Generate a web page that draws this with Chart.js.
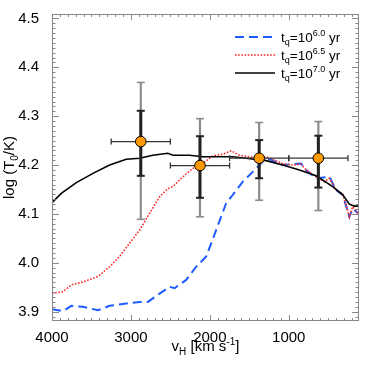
<!DOCTYPE html>
<html>
<head>
<meta charset="utf-8">
<script src="https://cdn.jsdelivr.net/npm/chart.js@4"></script>
<style>
  body { margin: 0; background: #fff; }
  #wrap { width: 374px; height: 374px; }
</style>
</head>
<body>
<div id="wrap"><canvas id="chart" width="374" height="374"></canvas></div>
<script>
// quasar lifetime models, log T0 vs velocity
const v60 = [4000, 3861, 3755, 3608, 3418, 3270, 3059, 2890, 2785, 2637, 2511, 2447, 2300, 2173, 2046, 1920, 1793, 1709, 1582, 1456, 1329, 1245, 1076, 949, 844, 781, 654, 485, 401, 316, 232, 190, 118];
const t60 = [3.905, 3.901, 3.912, 3.910, 3.903, 3.912, 3.917, 3.920, 3.920, 3.937, 3.951, 3.948, 3.965, 3.992, 4.013, 4.067, 4.122, 4.139, 4.166, 4.186, 4.207, 4.212, 4.200, 4.202, 4.203, 4.190, 4.173, 4.176, 4.149, 4.139, 4.094, 4.111, 4.101];

const v65 = [4000, 3861, 3755, 3608, 3418, 3270, 3143, 3017, 2890, 2764, 2637, 2532, 2468, 2342, 2215, 2089, 1962, 1835, 1730, 1624, 1456, 1287, 1076, 949, 844, 781, 654, 549, 485, 401, 316, 232, 190, 118];
const t65 = [3.937, 3.941, 3.955, 3.961, 3.972, 3.992, 4.013, 4.040, 4.067, 4.101, 4.135, 4.152, 4.156, 4.176, 4.193, 4.203, 4.219, 4.222, 4.229, 4.220, 4.216, 4.217, 4.203, 4.200, 4.202, 4.190, 4.176, 4.166, 4.173, 4.149, 4.142, 4.094, 4.115, 4.101];

const v70 = [4000, 3882, 3692, 3481, 3270, 3059, 2890, 2722, 2532, 2468, 2257, 2089, 1920, 1709, 1540, 1287, 1076, 865, 654, 443, 316, 232, 169, 118];
const t70 = [4.123, 4.142, 4.164, 4.183, 4.200, 4.212, 4.214, 4.220, 4.224, 4.220, 4.220, 4.217, 4.217, 4.217, 4.214, 4.209, 4.200, 4.190, 4.178, 4.156, 4.139, 4.120, 4.116, 4.116];

// measurements
const obsV = [2875, 2125, 1375, 625];
const obsT = [4.248, 4.199, 4.214, 4.214];
const binLo = [2500, 1750, 1000, 250];
const binHi = [3250, 2500, 1750, 1000];
const innerLo = [4.178, 4.133, 4.173, 4.154];
const innerHi = [4.311, 4.259, 4.251, 4.260];
const outerLo = [4.089, 4.094, 4.128, 4.107];
const outerHi = [4.369, 4.295, 4.287, 4.289];

const xTicks = [4000, 3000, 2000, 1000];
const yTicks = [3.9, 4.0, 4.1, 4.2, 4.3, 4.4, 4.5];
const legendExp = ['6.0', '6.5', '7.0'];

const FONT = '"Liberation Sans", Arial, sans-serif';

const zip = (xs, ys) => xs.map((x, i) => ({ x: x, y: ys[i] }));

const datasets = [];

datasets.push({
  label: 'data',
  data: zip(obsV, obsT),
  showLine: false,
  pointRadius: 5.3,
  pointBackgroundColor: '#ff9a00',
  pointBorderColor: '#000',
  pointBorderWidth: 1
});

for (let i = 0; i < obsV.length; i++) {
  datasets.push({
    data: [{ x: binLo[i], y: obsT[i] }, { x: binHi[i], y: obsT[i] }],
    borderColor: '#333',
    borderWidth: 1.3,
    pointStyle: 'line',
    pointRotation: 90,
    pointRadius: 3,
    pointBorderColor: '#333',
    pointBorderWidth: 1.3
  });
  datasets.push({
    data: [{ x: obsV[i], y: innerLo[i] }, { x: obsV[i], y: innerHi[i] }],
    borderColor: '#222',
    borderWidth: 3,
    pointStyle: 'line',
    pointRadius: 4,
    pointBorderColor: '#222',
    pointBorderWidth: 2
  });
  datasets.push({
    data: [{ x: obsV[i], y: outerLo[i] }, { x: obsV[i], y: outerHi[i] }],
    borderColor: '#8c8c8c',
    borderWidth: 2.2,
    pointStyle: 'line',
    pointRadius: 4,
    pointBorderColor: '#8c8c8c',
    pointBorderWidth: 1.6
  });
}

const lineStyles = [
  { color: '#1f5cff', width: 2, dash: [9, 5] },
  { color: '#ff2a2a', width: 1.6, dash: [1.6, 1.6] },
  { color: '#000', width: 1.6, dash: [] }
];

datasets.push({ data: zip(v70, t70), borderColor: lineStyles[2].color, borderWidth: lineStyles[2].width, pointRadius: 0 });
datasets.push({ data: zip(v65, t65), borderColor: lineStyles[1].color, borderWidth: lineStyles[1].width, borderDash: lineStyles[1].dash, pointRadius: 0 });
datasets.push({ data: zip(v60, t60), borderColor: lineStyles[0].color, borderWidth: lineStyles[0].width, borderDash: lineStyles[0].dash, pointRadius: 0 });

function drawRich(ctx, x, y, parts, align) {
  const big = '15px ' + FONT, small = '10px ' + FONT;
  let w = 0;
  parts.forEach(p => { ctx.font = p.s ? small : big; w += ctx.measureText(p.t).width; });
  let cx = align === 'center' ? x - w / 2 : x;
  ctx.textAlign = 'left';
  ctx.textBaseline = 'alphabetic';
  parts.forEach(p => {
    ctx.font = p.s ? small : big;
    const dy = p.s === 'sub' ? 4 : p.s === 'sup' ? -6 : 0;
    ctx.fillText(p.t, cx, y + dy);
    cx += ctx.measureText(p.t).width;
  });
}

const framePlugin = {
  id: 'frame',
  afterDraw(chart) {
    const ctx = chart.ctx, a = chart.chartArea;
    const xs = chart.scales.x, ys = chart.scales.y;
    ctx.save();
    ctx.strokeStyle = '#888';
    ctx.lineWidth = 1;
    ctx.strokeRect(a.left + 0.5, a.top + 0.5, a.right - a.left - 1, a.bottom - a.top - 1);
    ctx.beginPath();
    for (let v = 100; v <= 4000; v += 100) {
      if (v < xs.min) continue;
      const px = Math.round(xs.getPixelForValue(v)) + 0.5;
      const len = v % 1000 === 0 ? 6 : 3;
      ctx.moveTo(px, a.bottom); ctx.lineTo(px, a.bottom - len);
      ctx.moveTo(px, a.top); ctx.lineTo(px, a.top + len);
    }
    for (let k = 389; k <= 450; k++) {
      const v = k / 100;
      if (v < ys.min || v > ys.max) continue;
      const py = Math.round(ys.getPixelForValue(v)) + 0.5;
      const len = k % 10 === 0 ? 7 : 3.5;
      ctx.moveTo(a.left, py); ctx.lineTo(a.left + len, py);
      ctx.moveTo(a.right, py); ctx.lineTo(a.right - len, py);
    }
    ctx.stroke();

    // legend
    const lx0 = 235, lx1 = 275, ly = [37, 55, 73];
    lineStyles.forEach((s, i) => {
      ctx.strokeStyle = s.color;
      ctx.lineWidth = s.width;
      ctx.setLineDash(s.dash);
      ctx.beginPath();
      ctx.moveTo(lx0, ly[i]); ctx.lineTo(lx1, ly[i]);
      ctx.stroke();
    });
    ctx.setLineDash([]);
    ctx.fillStyle = '#000';
    const tb = '13.5px ' + FONT, ts = '9px ' + FONT;
    legendExp.forEach((e, i) => {
      const parts = [
        { t: 't', f: tb, dy: 0 }, { t: 'q', f: ts, dy: 3 },
        { t: '=10', f: tb, dy: 0 }, { t: e, f: ts, dy: -6 }, { t: ' yr', f: tb, dy: 0 }
      ];
      let cx = 281;
      ctx.textAlign = 'left';
      ctx.textBaseline = 'alphabetic';
      parts.forEach(p => {
        ctx.font = p.f;
        ctx.fillText(p.t, cx, ly[i] + 5 + p.dy);
        cx += ctx.measureText(p.t).width;
      });
    });

    // axis titles
    drawRich(ctx, (a.left + a.right) / 2, 351, [
      { t: 'v' }, { t: 'H', s: 'sub' }, { t: ' [km s' }, { t: '-1', s: 'sup' }, { t: ']' }
    ], 'center');
    ctx.translate(14, (a.top + a.bottom) / 2);
    ctx.rotate(-Math.PI / 2);
    drawRich(ctx, 0, 0, [
      { t: 'log (T' }, { t: '0', s: 'sub' }, { t: '/K)' }
    ], 'center');
    ctx.restore();
  }
};

new Chart(document.getElementById('chart'), {
  type: 'line',
  data: { datasets: datasets },
  options: {
    responsive: false,
    animation: false,
    layout: { padding: { top: 14, right: 15, left: 0, bottom: 0 } },
    plugins: { legend: { display: false }, tooltip: { enabled: false } },
    scales: {
      x: {
        type: 'linear',
        reverse: true,
        min: 110,
        max: 4000,
        grid: { display: false },
        border: { display: false },
        afterBuildTicks: s => { s.ticks = xTicks.map(v => ({ value: v })); },
        afterFit: s => { s.height = 53; },
        ticks: { color: '#000', font: { family: FONT, size: 15 }, padding: 0, maxRotation: 0, autoSkip: false, callback: v => String(v) }
      },
      y: {
        type: 'linear',
        min: 3.881,
        max: 4.509,
        grid: { display: false },
        border: { display: false },
        afterBuildTicks: s => { s.ticks = yTicks.map(v => ({ value: v })); },
        afterFit: s => { s.width = 52; },
        ticks: { color: '#000', font: { family: FONT, size: 15 }, padding: 5, callback: v => v.toFixed(1) }
      }
    }
  },
  plugins: [framePlugin]
});
</script>
</body>
</html>
